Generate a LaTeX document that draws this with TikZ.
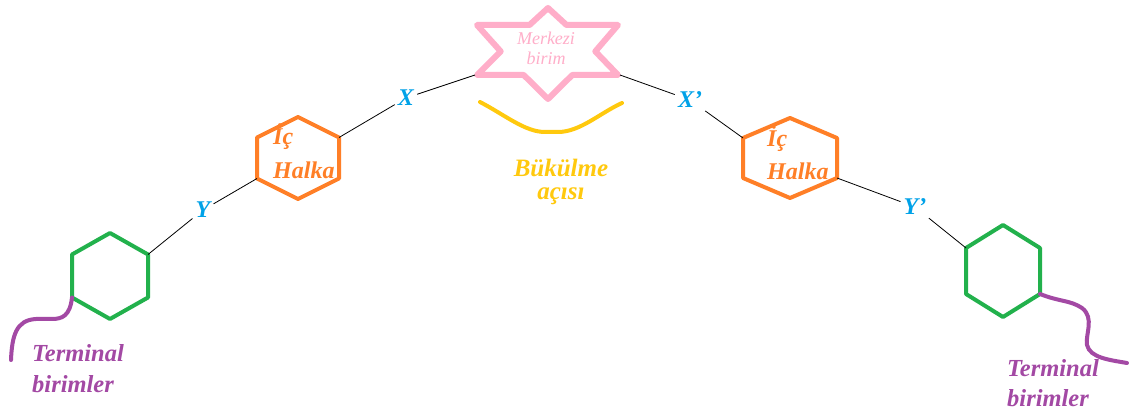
\documentclass[tikz,border=0pt]{standalone}
\usepackage{fontspec}
\setmainfont{Liberation Serif}
\definecolor{pinkc}{RGB}{255,174,201}
\definecolor{orangec}{RGB}{255,127,39}
\definecolor{greenc}{RGB}{34,177,76}
\definecolor{purplec}{RGB}{163,73,164}
\definecolor{yellowc}{RGB}{255,201,14}
\definecolor{bluec}{RGB}{0,162,232}
% hexagon: name, cx, cy, half-width, half-height, style
\newcommand\myhex[6]{%
  \coordinate (#1-t)  at (#2,#3-#5);
  \coordinate (#1-ur) at (#2+#4,#3-#5/2);
  \coordinate (#1-lr) at (#2+#4,#3+#5/2);
  \coordinate (#1-b)  at (#2,#3+#5);
  \coordinate (#1-ll) at (#2-#4,#3+#5/2);
  \coordinate (#1-ul) at (#2-#4,#3-#5/2);
  \draw[#6] (#1-t)--(#1-ur)--(#1-lr)--(#1-b)--(#1-ll)--(#1-ul)--cycle;}
\newcommand\txtstack[2]{\begin{tabular}[t]{@{}#1@{}}#2\end{tabular}}
\newcommand\sq{{\char"27}}
\begin{document}
\begin{tikzpicture}[x=1pt,y=-1pt,
  hexo/.style={draw=orangec,line width=4pt,line join=round},
  hexg/.style={draw=greenc,line width=4pt,line join=round},
  starline/.style={draw=pinkc,line width=6pt,line join=round},
  conn/.style={draw=black,line width=0.8pt},
  lab/.style={text=bluec,font=\fontsize{24}{28}\selectfont\bfseries\itshape,inner sep=3pt},
  ringtext/.style={text=orangec,inner sep=0pt,anchor=base west},
  termline/.style={draw=purplec,line width=4pt,line cap=round},
  termtext/.style={text=purplec,inner sep=0pt,anchor=base west},
  bendline/.style={draw=yellowc,line width=4pt,line cap=round,line join=round},
  bendtext/.style={text=yellowc,inner sep=0pt,anchor=base},
  startext/.style={text=pinkc,inner sep=0pt,anchor=base}]
\useasboundingbox (0,0) rectangle (1133,419);
\fill[white] (0,0) rectangle (1133,419);

% central star
\coordinate (star-l) at (475,75);
\coordinate (star-r) at (620,75);
\draw[starline] (548,8) -- (529.5,25) -- (477,25) -- (500.7,51.4) -- (477,75)
  -- (523.7,75) -- (548,99) -- (572.3,75) -- (618,75) -- (595.3,51.4)
  -- (618,25) -- (566.5,25) -- cycle;
\node[startext,font=\fontsize{18}{20}\selectfont\itshape] (merkez) at (546,45)
  {\txtstack{c}{Merkezi\\birim}};

% hexagons
\myhex{oL}{298}{158}{41}{41}{hexo}
\myhex{oR}{790}{158}{47}{40}{hexo}
\myhex{gL}{110}{276}{38}{43}{hexg}
\myhex{gR}{1003}{271}{37}{46}{hexg}

% labels on connectors
\node[lab] (X)  at (406,98)  {X};
\node[lab] (Xp) at (690,100) {X\sq};
\node[lab] (Y)  at (203,210) {Y};
\node[lab] (Yp) at (915,207) {Y\sq};

\draw[conn] (star-l) -- (X);
\draw[conn] (X) -- (oL-ur);
\draw[conn] (oL-ll) -- (Y);
\draw[conn] (Y) -- (gL-ur);
\draw[conn] (star-r) -- (Xp);
\draw[conn] (Xp) -- (oR-ul);
\draw[conn] (oR-lr) -- (Yp);
\draw[conn] (Yp) -- (gR-ul);

% ring texts
\node[ringtext,font=\fontsize{24}{34}\selectfont\bfseries\itshape] (ringL) at (273,145)
  {\txtstack{l}{İç\\Halka}};
\node[ringtext,font=\fontsize{24}{33}\selectfont\bfseries\itshape] (ringR) at (767,147)
  {\txtstack{l}{İç\\Halka}};

% bending angle
\coordinate (bend-a) at (480,102);
\coordinate (bend-b) at (622,103);
\draw[bendline] (bend-a) .. controls (505,115) and (525,132) .. (545,132)
  -- (558,132) .. controls (580,132) and (600,113) .. (bend-b);
\node[bendtext,font=\fontsize{25}{23}\selectfont\bfseries\itshape] (bukulme) at (561,177)
  {\txtstack{c}{Bükülme\\açısı}};

% terminal units
\coordinate (tL-end) at (11,360);
\draw[termline] (gL-ll) .. controls (70,316) and (62,319) .. (52,319)
  -- (36,319) .. controls (16,320) and (12,336) .. (tL-end);
\coordinate (tR-end) at (1127,363);
\draw[termline] (gR-lr) .. controls (1060,302) and (1070,300) .. (1082,308)
  .. controls (1095,318) and (1085,335) .. (1087,345)
  .. controls (1090,358) and (1110,360) .. (tR-end);
\node[termtext,font=\fontsize{24.5}{31}\selectfont\bfseries\itshape] (termL) at (32,362)
  {\txtstack{l}{Terminal\\birimler}};
\node[termtext,font=\fontsize{24.5}{30}\selectfont\bfseries\itshape] (termR) at (1007,377)
  {\txtstack{l}{Terminal\\birimler}};
\end{tikzpicture}
\end{document}
